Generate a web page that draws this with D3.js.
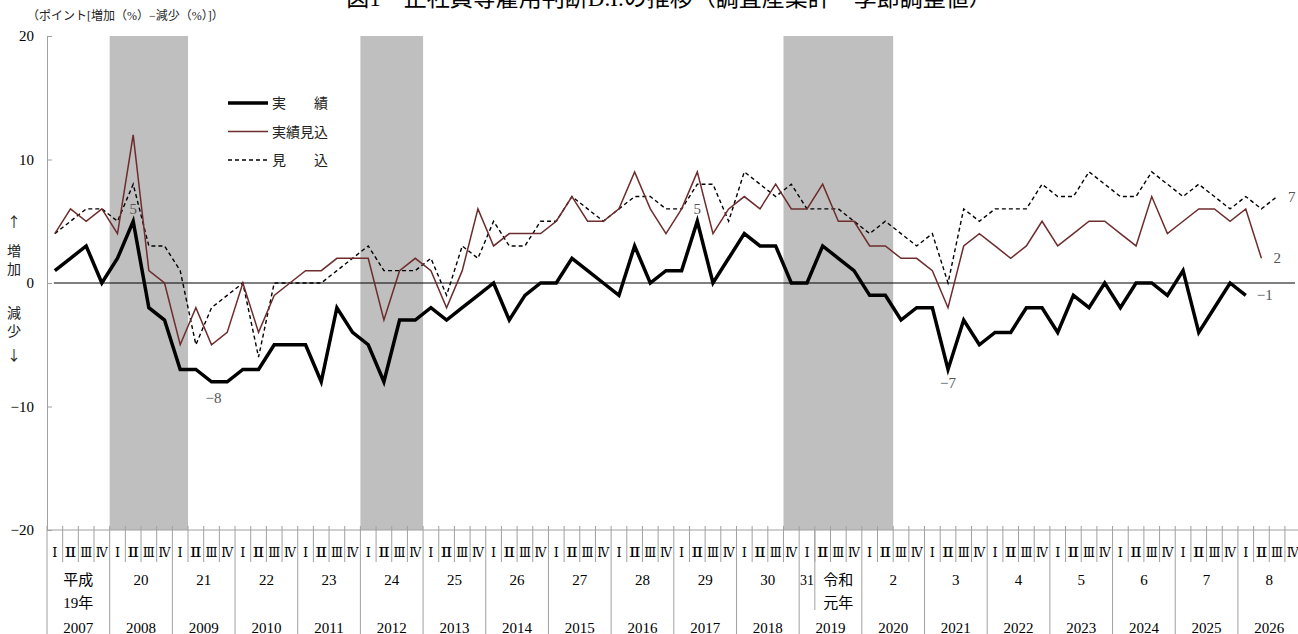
<!DOCTYPE html>
<html>
<head>
<meta charset="utf-8">
<script src="https://cdn.jsdelivr.net/npm/d3@7"></script>
<style>
  body { margin: 0; background: #fff; }
  svg { display: block; font-family: "Liberation Serif", "Noto Sans CJK JP", serif; }
</style>
</head>
<body>
<div id="chart"></div>
<script>
// 年・四半期
const years = ['2007','2008','2009','2010','2011','2012','2013','2014','2015','2016',
               '2017','2018','2019','2020','2021','2022','2023','2024','2025','2026'];
const quarterNames = ['Ⅰ','Ⅱ','Ⅲ','Ⅳ'];
// 和暦（2019年は平成31/令和元年で別扱い）
const eraLabels = [['平成','19年'],['20'],['21'],['22'],['23'],['24'],['25'],['26'],['27'],['28'],
                   ['29'],['30'],[],['2'],['3'],['4'],['5'],['6'],['7'],['8']];
const heisei31 = '31';
const reiwa1 = ['令和','元年'];

// 実績 / 実績見込 / 見込（2007年Ⅰ期から）
const jisseki = [1,2,3,0,2,5,-2,-3, -7,-7,-8,-8,-7,-7,-5,-5, -5,-8,-2,-4,-5,-8,-3,-3,
                 -2,-3,-2,-1,0,-3,-1,0, 0,2,1,0,-1,3,0,1, 1,5,0,2,4,3,3,0,
                 0,3,2,1,-1,-1,-3,-2, -2,-7,-3,-5,-4,-4,-2,-2, -4,-1,-2,0,-2,0,0,-1,
                 1,-4,-2,0,-1];
const jissekiMikomi = [4,6,5,6,4,12,1,0, -5,-2,-5,-4,0,-4,-1,0, 1,1,2,2,2,-3,1,2,
                       1,-2,1,6,3,4,4,4, 5,7,5,5,6,9,6,4, 6,9,4,6,7,6,8,6,
                       6,8,5,5,3,3,2,2, 1,-2,3,4,3,2,3,5, 3,4,5,5,4,3,7,4,
                       5,6,6,5,6,2];
const mikomi = [4,5,6,6,5,8,3,3, 1,-5,-2,-1,0,-6,0,0, 0,0,1,2,3,1,1,1,
                2,-1,3,2,5,3,3,5, 5,7,6,5,6,7,7,6, 6,8,8,5,9,8,7,8,
                6,6,6,5,4,5,4,3, 4,0,6,5,6,6,6,8, 7,7,9,8,7,7,9,8,
                7,8,7,6,7,6,7];

// 景気後退期（シャドー）
const shades = [['2008Ⅰ','2009Ⅰ'], ['2012Ⅰ','2012Ⅳ'], ['2018Ⅳ','2020Ⅱ']];
const yTicks = [-20,-10,0,10,20];

const W = 1298, H = 634;
const left = 47, qw = 15.67;
const qKeys = years.flatMap(y => quarterNames.map(q => y + q));

const svg = d3.select('#chart').append('svg')
  .attr('width', W).attr('height', H);

const x = d3.scaleBand().domain(qKeys).range([left, left + qw * qKeys.length]);
const y = d3.scaleLinear().domain([-20, 20]).range([530, 36]);
const cx = i => x(qKeys[i]) + x.bandwidth() / 2;
const bw = x.bandwidth();

// タイトル（上端で切れている）
svg.append('text')
  .attr('x', 669).attr('y', 6)
  .attr('text-anchor', 'middle')
  .attr('font-size', 23)
  .attr('fill', '#000')
  .text('図1　正社員等雇用判断D.I.の推移（調査産業計・季節調整値）');

svg.append('text')
  .attr('x', 27).attr('y', 20)
  .attr('font-size', 12)
  .attr('fill', '#222')
  .text('（ポイント[増加（%）−減少（%）]）');

// シャドー
svg.append('g').selectAll('rect')
  .data(shades)
  .join('rect')
  .attr('x', d => x(d[0]))
  .attr('width', d => x(d[1]) + bw - x(d[0]))
  .attr('y', y(20))
  .attr('height', y(-20) - y(20))
  .attr('fill', '#bfbfbf');

// Y軸
const yAxis = d3.axisLeft(y)
  .tickValues(yTicks)
  .tickSizeInner(-5)
  .tickSizeOuter(0)
  .tickPadding(13);

svg.append('g')
  .attr('transform', `translate(${left},0)`)
  .call(yAxis)
  .call(g => g.select('.domain').attr('stroke', '#a0a0a0'))
  .call(g => g.selectAll('.tick line').attr('stroke', '#a0a0a0'))
  .call(g => g.selectAll('.tick text')
    .attr('font-size', 15)
    .attr('font-family', '"Liberation Serif", serif')
    .attr('fill', '#000'));

// 増加 / 減少
const sideUp = ['↑','増','加'], sideDown = ['減','少','↓'];
svg.append('g').selectAll('text')
  .data(sideUp.map((t, i) => ({ t, yy: [227, 256, 274][i] }))
    .concat(sideDown.map((t, i) => ({ t, yy: [318, 336, 360][i] }))))
  .join('text')
  .attr('x', 14).attr('y', d => d.yy)
  .attr('text-anchor', 'middle')
  .attr('font-size', 14)
  .attr('font-family', '"Noto Sans CJK JP", sans-serif')
  .attr('fill', '#222')
  .text(d => d.t);

// ゼロ線
svg.append('line')
  .attr('x1', cx(0) - 1).attr('x2', 1295)
  .attr('y1', y(0)).attr('y2', y(0))
  .attr('stroke', '#000').attr('stroke-width', 1);

// X軸
const xg = svg.append('g');
const x0 = y(-20);
xg.append('line')
  .attr('x1', left).attr('x2', left + qw * qKeys.length)
  .attr('y1', x0).attr('y2', x0)
  .attr('stroke', '#a0a0a0');

xg.selectAll('.qtick')
  .data(qKeys)
  .join('line')
  .attr('class', 'qtick')
  .attr('x1', d => x(d)).attr('x2', d => x(d))
  .attr('y1', x0 - 4).attr('y2', d => d.endsWith('Ⅰ') ? H : x0 + 32)
  .attr('stroke', '#a0a0a0');

xg.append('line')
  .attr('x1', x('2019Ⅱ')).attr('x2', x('2019Ⅱ'))
  .attr('y1', x0).attr('y2', 610)
  .attr('stroke', '#a0a0a0');

xg.append('line')
  .attr('x1', left + qw * qKeys.length).attr('x2', left + qw * qKeys.length)
  .attr('y1', x0).attr('y2', H)
  .attr('stroke', '#a0a0a0');

xg.selectAll('.qlab')
  .data(qKeys)
  .join('text')
  .attr('class', 'qlab')
  .attr('x', d => x(d) + bw / 2)
  .attr('y', 557)
  .attr('text-anchor', 'middle')
  .attr('font-size', 13)
  .attr('font-family', '"DejaVu Serif", serif')
  .attr('textLength', d => d.endsWith('Ⅰ') ? null : 12)
  .attr('lengthAdjust', 'spacingAndGlyphs')
  .text(d => d.slice(-1));

const yearCenter = yr => x(yr + 'Ⅰ') + bw * 2;

xg.selectAll('.era')
  .data(years.map((yr, i) => ({ yr, lab: eraLabels[i] })))
  .join('text')
  .attr('class', 'era')
  .attr('x', d => yearCenter(d.yr))
  .attr('text-anchor', 'middle')
  .attr('font-size', 15)
  .attr('fill', '#000')
  .each(function (d) {
    d3.select(this).selectAll('tspan')
      .data(d.lab)
      .join('tspan')
      .attr('x', yearCenter(d.yr))
      .attr('y', (t, k) => 585 + k * 23)
      .text(t => t);
  });

xg.append('text')
  .attr('x', x('2019Ⅰ') + bw / 2).attr('y', 585)
  .attr('text-anchor', 'middle')
  .attr('font-size', 14)
  .text(heisei31);

xg.selectAll('.reiwa')
  .data(reiwa1)
  .join('text')
  .attr('class', 'reiwa')
  .attr('x', x('2019Ⅲ') + bw / 2)
  .attr('y', (t, k) => 585 + k * 23)
  .attr('text-anchor', 'middle')
  .attr('font-size', 15)
  .text(t => t);

xg.selectAll('.yr')
  .data(years)
  .join('text')
  .attr('class', 'yr')
  .attr('x', d => yearCenter(d))
  .attr('y', 633)
  .attr('text-anchor', 'middle')
  .attr('font-size', 15)
  .text(d => d);

// 系列
const line = d3.line()
  .x((d, i) => cx(i))
  .y(d => y(d));

svg.append('path')
  .datum(mikomi)
  .attr('d', line)
  .attr('fill', 'none')
  .attr('stroke', '#000')
  .attr('stroke-width', 1.4)
  .attr('stroke-dasharray', '4,3');

svg.append('path')
  .datum(jissekiMikomi)
  .attr('d', line)
  .attr('fill', 'none')
  .attr('stroke', '#6e2c2c')
  .attr('stroke-width', 1.5);

svg.append('path')
  .datum(jisseki)
  .attr('d', line)
  .attr('fill', 'none')
  .attr('stroke', '#000')
  .attr('stroke-width', 3.5)
  .attr('stroke-linejoin', 'miter');

// 数値ラベル
const fmt = v => v < 0 ? '−' + (-v) : String(v);
const notes = [
  { s: jisseki, i: 5, dx: 0, dy: -7, anchor: 'middle' },
  { s: jisseki, i: 10, dx: 2, dy: 21, anchor: 'middle' },
  { s: jisseki, i: 41, dx: 0, dy: -7, anchor: 'middle' },
  { s: jisseki, i: 57, dx: 0, dy: 19, anchor: 'middle' },
  { s: mikomi, i: mikomi.length - 1, dx: 11, dy: 5, anchor: 'start' },
  { s: jissekiMikomi, i: jissekiMikomi.length - 1, dx: 12, dy: 5, anchor: 'start' },
  { s: jisseki, i: jisseki.length - 1, dx: 11, dy: 5, anchor: 'start' }
];
svg.append('g').selectAll('text')
  .data(notes)
  .join('text')
  .attr('x', d => cx(d.i) + d.dx)
  .attr('y', d => y(d.s[d.i]) + d.dy)
  .attr('text-anchor', d => d.anchor)
  .attr('font-size', 15)
  .attr('fill', '#555')
  .text(d => fmt(d.s[d.i]));

// 凡例
const legend = [
  { name: '実　　績', color: '#000', w: 3.5, dash: null },
  { name: '実績見込', color: '#6e2c2c', w: 1.5, dash: null },
  { name: '見　　込', color: '#000', w: 1.4, dash: '4,3' }
];
const lg = svg.append('g').selectAll('g')
  .data(legend)
  .join('g')
  .attr('transform', (d, i) => `translate(228,${103 + i * 28.5})`);
lg.append('line')
  .attr('x1', 0).attr('x2', 40)
  .attr('stroke', d => d.color)
  .attr('stroke-width', d => d.w)
  .attr('stroke-dasharray', d => d.dash);
lg.append('text')
  .attr('x', 44).attr('y', 5)
  .attr('font-size', 14)
  .attr('font-family', '"Noto Sans CJK JP", sans-serif')
  .attr('fill', '#222')
  .text(d => d.name);
</script>
</body>
</html>
